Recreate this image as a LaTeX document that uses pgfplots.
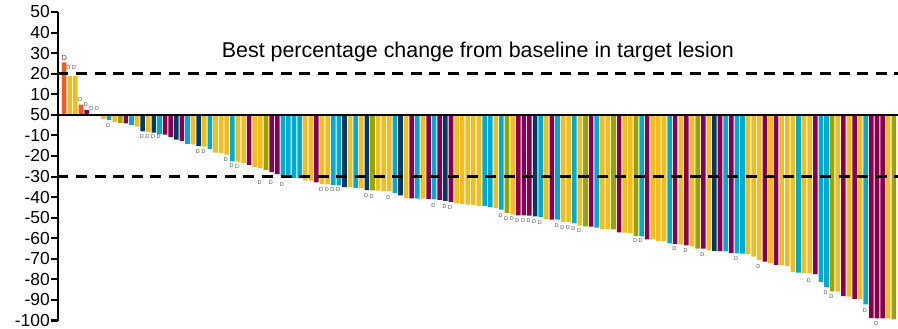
\documentclass[border=0pt]{standalone}
\usepackage{pgfplots}
\pgfplotsset{compat=1.18}
\usepackage{fontspec}
\setmainfont{Liberation Sans}
\definecolor{cO}{RGB}{240,90,40}
\definecolor{cY}{RGB}{242,189,30}
\definecolor{cC}{RGB}{0,170,208}
\definecolor{cM}{RGB}{135,0,80}
\definecolor{cN}{RGB}{0,58,100}
\definecolor{cL}{RGB}{153,164,0}
\newcommand{\Dl}[3]{\node[font=\fontsize{5.5}{5.5}\selectfont, text=black!70, inner sep=0pt] at (axis cs:#1,#2) {#3};}
\begin{document}
\begin{tikzpicture}
\begin{axis}[name=ax, scale only axis, width=840bp, height=308.5bp,
  xmin=-0.106, xmax=149.75, ymin=-100, ymax=50,
  axis x line=none, axis y line*=left,
  axis line style={line width=2.7bp, black},
  ytick={-100,-90,...,50},
  yticklabels={-100,-90,-80,-70,-60,-50,-40,-30,-20,-10,50,10,20,30,40,50},
  tick style={line width=2bp, black},
  major tick length=7bp, tick align=outside, ytick pos=left,
  yticklabel style={font=\fontsize{17.5}{17.5}\selectfont, inner sep=0pt, xshift=-1bp},
  ybar, bar width=0.82, bar shift=0pt, clip=false,
  every axis plot/.append style={draw=none}]
\addplot[fill=cO] coordinates {(1,25.5) (4,5.0)};
\addplot[fill=cY] coordinates {(2,18.8) (3,18.8) (8,-2.0) (10,-3.4) (14,-5.7) (16,-8.4) (24,-14.4) (26,-15.4) (28,-18.4) (29,-18.6) (30,-19.3) (32,-22.7) (33,-23.5) (35,-25.4) (36,-25.9) (44,-31.9) (45,-32.0) (47,-33.7) (48,-33.8) (52,-35.2) (54,-35.7) (57,-36.9) (58,-37.0) (59,-37.1) (62,-40.5) (65,-40.8) (71,-43.1) (72,-43.3) (73,-43.6) (74,-43.8) (75,-44.3) (78,-45.3) (81,-48.4) (87,-50.8) (90,-52.1) (91,-52.2) (93,-53.9) (97,-55.5) (98,-55.6) (101,-57.3) (102,-57.5) (106,-60.6) (107,-61.3) (108,-61.4) (111,-63.0) (113,-63.9) (116,-65.9) (123,-67.6) (124,-68.9) (125,-70.5) (127,-72.2) (129,-73.1) (130,-73.5) (131,-76.3) (133,-76.8) (134,-77.1) (139,-85.9) (141,-88.4) (143,-89.6) (148,-99.0)};
\addplot[fill=cC] coordinates {(9,-2.6) (13,-5.0) (18,-9.4) (23,-14.1) (27,-16.5) (31,-22.6) (40,-29.9) (41,-30.6) (42,-30.7) (43,-30.8) (49,-34.0) (50,-34.3) (53,-35.6) (60,-38.0) (64,-40.8) (67,-41.1) (76,-44.4) (77,-44.7) (79,-46.1) (86,-49.6) (89,-51.0) (92,-52.6) (96,-54.9) (104,-59.1) (109,-62.5) (119,-66.4) (121,-67.4) (122,-67.5) (132,-76.7) (136,-81.2) (137,-83.7) (144,-92.1)};
\addplot[fill=cM] coordinates {(5,2.4) (12,-4.2) (19,-9.6) (20,-10.8) (22,-12.8) (34,-24.3) (38,-27.8) (39,-28.8) (46,-32.9) (63,-40.6) (66,-40.9) (68,-41.3) (70,-42.3) (82,-48.9) (83,-48.9) (84,-49.0) (88,-50.9) (95,-54.4) (100,-57.1) (105,-60.5) (110,-62.7) (112,-63.5) (115,-65.1) (118,-66.3) (120,-67.3) (126,-71.4) (128,-73.0) (135,-77.5) (140,-88.2) (142,-89.5) (145,-98.9) (146,-99.0) (147,-99.0)};
\addplot[fill=cN] coordinates {(15,-8.1) (17,-8.7) (21,-12.0) (25,-15.2) (51,-35.1) (55,-36.6) (61,-39.2) (69,-41.8) (85,-49.4) (117,-66.2)};
\addplot[fill=cL] coordinates {(11,-3.9) (37,-26.9) (56,-36.7) (80,-47.7) (94,-54.2) (99,-55.7) (103,-58.9) (114,-65.0) (138,-85.8) (149,-99.5)};
% reference lines
\draw[line width=2.2bp, black] (axis cs:-0.106,0) -- (axis cs:149.75,0);
\draw[line width=2.6bp, black, dash pattern=on 11bp off 7.6bp] (axis cs:-0.2,20) -- (axis cs:149.75,20);
\draw[line width=2.6bp, black, dash pattern=on 11bp off 7.6bp] (axis cs:-0.2,-30) -- (axis cs:149.75,-30);
% title
\node[font=\fontsize{21.5}{21.5}\selectfont, inner sep=0pt] at (axis cs:74.8,30.6) {Best percentage change from baseline in target lesion};
% D labels
\node[font=\fontsize{7.5}{7.5}\selectfont, text=black!70, inner sep=0pt] at (axis cs:1,27.5) {D};
\Dl{1.85}{23.2}{D'}\Dl{2.85}{23.2}{D'}
\Dl{3.85}{7.6}{D}\Dl{4.85}{4.9}{D}\Dl{5.85}{2.8}{D}\Dl{6.85}{2.8}{D}
\Dl{8.85}{-5.3}{D}
\Dl{14.85}{-10.6}{D}\Dl{15.85}{-10.6}{D}\Dl{16.85}{-10.6}{D}\Dl{17.85}{-10.8}{D}
\Dl{24.85}{-17.8}{D}\Dl{25.85}{-17.8}{D}
\Dl{29.85}{-21.7}{D}\Dl{30.85}{-24.6}{D}\Dl{31.85}{-25.2}{D}
\Dl{35.85}{-32.9}{D}\Dl{37.85}{-32.9}{D}\Dl{39.85}{-33.9}{D}
\Dl{46.85}{-36.3}{D}\Dl{47.85}{-36.3}{D}\Dl{48.85}{-36.3}{D}\Dl{49.85}{-36.3}{D}
\Dl{54.85}{-39.4}{D}\Dl{55.85}{-39.7}{D}\Dl{58.85}{-40.3}{D}
\Dl{66.85}{-44.2}{D}\Dl{68.85}{-44.5}{D}\Dl{69.85}{-45.0}{D}
\Dl{78.85}{-49.2}{D}\Dl{79.85}{-50.6}{D}\Dl{80.85}{-50.6}{D}
\Dl{81.85}{-51.6}{D}\Dl{82.85}{-51.6}{D}\Dl{83.85}{-51.6}{D}\Dl{84.85}{-51.8}{D}\Dl{85.85}{-52.3}{D}
\Dl{88.85}{-54.0}{D}\Dl{89.85}{-54.7}{D}\Dl{90.85}{-54.8}{D}\Dl{91.85}{-55.5}{D}\Dl{92.85}{-56.5}{D}
\Dl{102.85}{-61.3}{D}\Dl{103.85}{-61.3}{D}
\Dl{109.85}{-65.2}{D}\Dl{111.85}{-66.1}{D}\Dl{114.85}{-68.1}{D}\Dl{120.85}{-70.1}{D}\Dl{124.85}{-73.9}{D}
\Dl{133.85}{-80.7}{D}\Dl{136.85}{-86.6}{D}\Dl{137.85}{-88.5}{D}\Dl{143.85}{-95.1}{D}\Dl{145.85}{-101.5}{D}
\end{axis}
\pgfresetboundingbox
\path[use as bounding box] ([xshift=-58bp,yshift=-8.5bp]ax.south west) rectangle ([yshift=12bp]ax.north east);
\end{tikzpicture}
\end{document}
